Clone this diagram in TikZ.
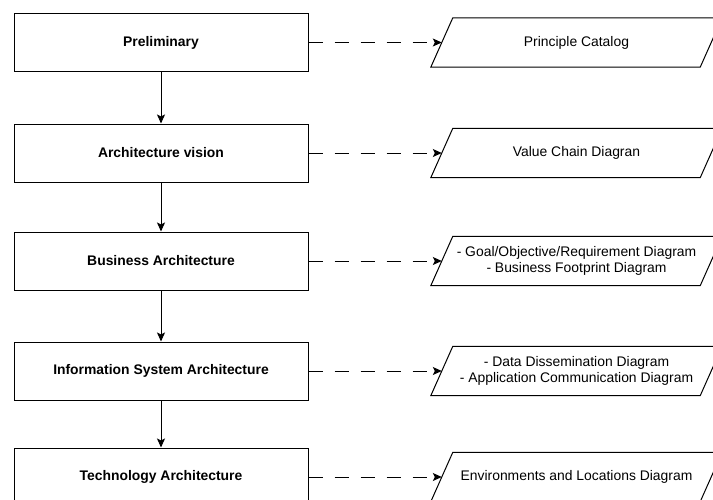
\documentclass[tikz,border=0pt]{standalone}
\usepackage{fontspec}
\setmainfont{Liberation Sans}
\usetikzlibrary{arrows.meta}

\begin{document}
\begin{tikzpicture}[x=1pt,y=-1pt,
    phase/.style={draw, line width=1pt, minimum width=294pt, minimum height=58pt,
        font=\fontsize{13.9}{16.7}\selectfont\bfseries},
    artifact/.style={minimum width=269pt, minimum height=49pt, inner xsep=0pt,
        align=center, font=\fontsize{13.9}{16.7}\selectfont},
    flow/.style={-{Stealth[length=9pt,width=8pt,inset=2pt]}, line width=1pt},
    output/.style={flow, dash pattern=on 14pt off 12pt}]
    \useasboundingbox (0,0) rectangle (713,499);
    \clip (0,0) rectangle (713,499);

    % phases
    \node[phase] at (161,42.5) (prelim) {Preliminary};
    \node[phase] at (161,153) (vision) {Architecture vision};
    \node[phase] at (161,261) (business) {Business Architecture};
    \node[phase] at (161,371) (infosys) {Information System Architecture};
    \node[phase] at (161,477) (techno) {Technology Architecture};

    % deliverables
    \node[artifact] at (576.5,42.5) (catalog) {Principle Catalog};
    \node[artifact] at (576.5,153) (chain) {Value Chain Diagran};
    \node[artifact] at (576.5,261) (goal) {- Goal/Objective/Requirement Diagram\\- Business Footprint Diagram};
    \node[artifact] at (576.5,371) (data) {- Data Dissemination Diagram\\- Application Communication Diagram};
    \node[artifact] at (576.5,477) (env) {Environments and Locations Diagram};

    % slanted outlines
    \foreach \n in {catalog,chain,goal,data,env}
        \draw[line width=1pt] ([xshift=-11pt]\n.south west) -- ([xshift=-11pt]\n.south east)
            -- ([xshift=11pt]\n.north east) -- ([xshift=11pt]\n.north west) -- cycle;

    \draw[flow] (prelim) -- (vision);
    \draw[flow] (vision) -- (business);
    \draw[flow] (business) -- (infosys);
    \draw[flow] (infosys) -- (techno);

    \draw[output] (prelim.east) -- (catalog.west);
    \draw[output] (vision.east) -- (chain.west);
    \draw[output] (business.east) -- (goal.west);
    \draw[output] (infosys.east) -- (data.west);
    \draw[output] (techno.east) -- (env.west);
\end{tikzpicture}
\end{document}
